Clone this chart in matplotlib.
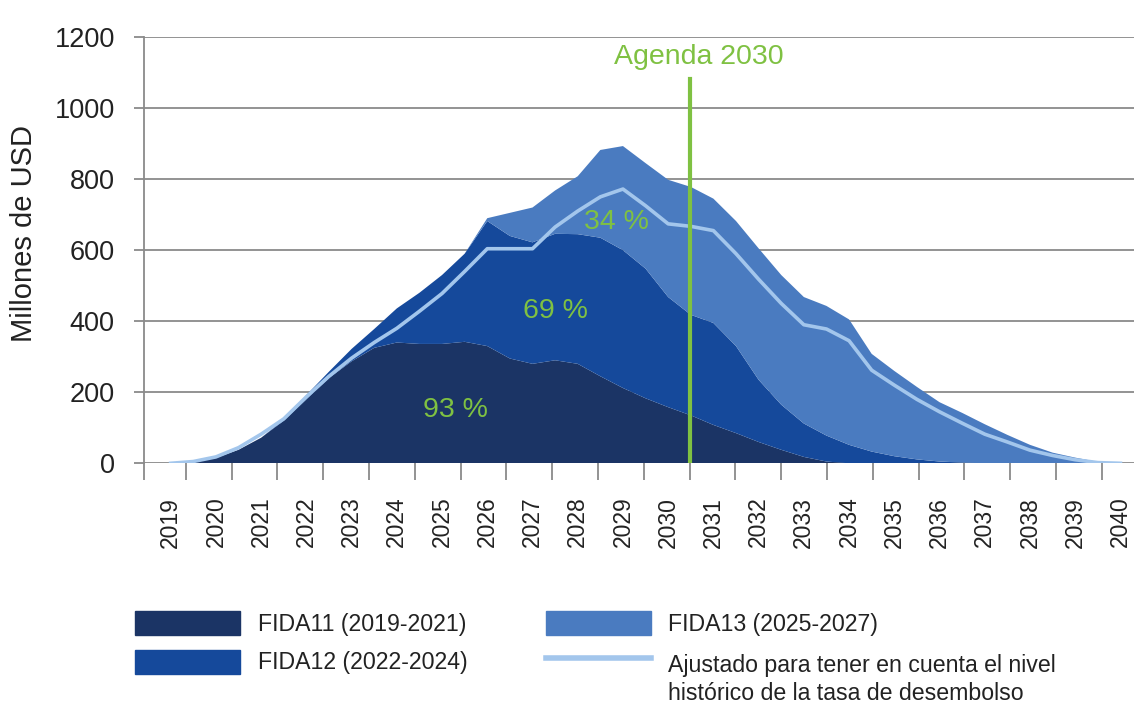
import numpy as np
import matplotlib
matplotlib.use("Agg")
import matplotlib.pyplot as plt
from matplotlib.patches import Rectangle
from matplotlib.lines import Line2D

plt.rcParams['font.family'] = ['Liberation Sans', 'DejaVu Sans']

# half-year points (millones de USD)
years = np.arange(2019.0, 2040.01, 0.5)
fida11 = [0, 4, 15, 38, 72, 120, 180, 240, 287, 325, 340, 336, 336, 342, 330, 295,
          280, 290, 280, 245, 212, 183, 158, 135, 108, 85, 60, 38, 18, 5, 0, 0,
          0, 0, 0, 0, 0, 0, 0, 0, 0, 0, 0]
fida12 = [0, 0, 0, 0, 0, 3, 12, 18, 35, 53, 96, 144, 194, 248, 352, 345,
          342, 356, 365, 390, 388, 365, 310, 283, 287, 245, 175, 127, 94, 73, 52, 33,
          20, 11, 5, 2, 0, 0, 0, 0, 0, 0, 0]
fida13 = [0, 0, 0, 0, 0, 0, 0, 0, 0, 0, 0, 0, 0, 0, 8, 65,
          98, 122, 163, 247, 293, 297, 330, 360, 350, 352, 370, 365, 356, 365, 353, 275,
          240, 204, 167, 140, 110, 80, 52, 30, 16, 4, 0]
ajustado = [0, 5, 18, 44, 82, 125, 187, 245, 296, 340, 380, 428, 478, 540, 604, 604,
            604, 665, 710, 750, 772, 725, 674, 667, 655, 590, 518, 450, 390, 378, 345, 262,
            220, 180, 145, 113, 82, 60, 37, 22, 10, 2, 0]
year_labels = list(range(2019, 2041))
pct_labels = [("93 %", 2025.3, 150), ("69 %", 2027.5, 428), ("34 %", 2028.85, 680)]
legend_names = ["FIDA11 (2019-2021)", "FIDA12 (2022-2024)", "FIDA13 (2025-2027)",
                "Ajustado para tener en cuenta el nivel\nhistórico de la tasa de desembolso"]

c11 = '#1b3465'
c12 = '#15499b'
c13 = '#4a7bc0'
cline = '#a3c6ec'
green = '#7fc142'
grey = '#8a8a8a'

W, H = 1134, 704
x_left, x_right = 2018.41, 2040.3
# tick marks sit slightly off the label grid, as in the original
px_per_year = 990 / (x_right - x_left)
tick_pos = [x_left] + [x_left + (41.7 + 45.8 * j) / px_per_year for j in range(21)]
agenda_x = tick_pos[12]

fig = plt.figure(figsize=(W / 100, H / 100), dpi=100)
ax = fig.add_axes([144 / W, 1 - 463.3 / H, 990 / W, 426.3 / H])

ax.stackplot(years, fida11, fida12, fida13, colors=[c11, c12, c13], lw=0, zorder=2)
ax.plot(years, ajustado, color=cline, lw=2.6, zorder=3)
ax.plot([agenda_x, agenda_x], [0, 1083], color=green, lw=3, zorder=4)
ax.text(agenda_x + 0.2, 1143, "Agenda 2030", color=green, fontsize=20.5,
        ha='center', va='center')
for txt, x, y in pct_labels:
    ax.text(x, y, txt, color=green, fontsize=20.5, ha='center', va='center', zorder=5)

ax.set_xlim(x_left, x_right)
ax.set_ylim(0, 1200)
ax.set_yticks(range(0, 1201, 200))
ax.yaxis.grid(True, color=grey, lw=1.3)
ax.set_axisbelow(True)
for s in ['top', 'right', 'bottom']:
    ax.spines[s].set_visible(False)
ax.spines['left'].set_color(grey)
ax.spines['left'].set_linewidth(1.3)
ax.tick_params(axis='y', length=7, color=grey, width=1.3, labelsize=19.5, pad=14,
               labelcolor='#222222')

ax.set_xticks(year_labels)
ax.set_xticklabels([str(y) for y in year_labels], rotation=90, fontsize=16.5,
                   color='#222222')
ax.set_xticks(tick_pos, minor=True)
ax.tick_params(axis='x', which='major', length=0, pad=24)
ax.tick_params(axis='x', which='minor', length=12, color=grey, width=1.3)
ax.set_ylabel("Millones de USD", fontsize=21, color='#222222')
ax.yaxis.set_label_coords(-(144 - 38) / 990, 0.54)


def fx(x):
    return x / W


def fy(y):
    return 1 - y / H


# legend drawn by hand below the chart
fig.add_artist(Rectangle((fx(135), fy(635)), 105 / W, 24 / H, color=c11,
                         transform=fig.transFigure))
fig.add_artist(Rectangle((fx(135), fy(674)), 105 / W, 24 / H, color=c12,
                         transform=fig.transFigure))
fig.add_artist(Rectangle((fx(546), fy(635)), 105 / W, 24 / H, color=c13,
                         transform=fig.transFigure))
fig.add_artist(Line2D([fx(546), fx(651)], [fy(658), fy(658)], color=cline, lw=4,
                      transform=fig.transFigure))
fig.text(fx(258), fy(624), legend_names[0], fontsize=16.7, va='center', color='#222222')
fig.text(fx(258), fy(663), legend_names[1], fontsize=16.7, va='center', color='#222222')
fig.text(fx(668), fy(624), legend_names[2], fontsize=16.7, va='center', color='#222222')
fig.text(fx(668), fy(654), legend_names[3], fontsize=16.7, va='top', color='#222222',
         linespacing=1.3)

fig.savefig("out.png", dpi=100)
